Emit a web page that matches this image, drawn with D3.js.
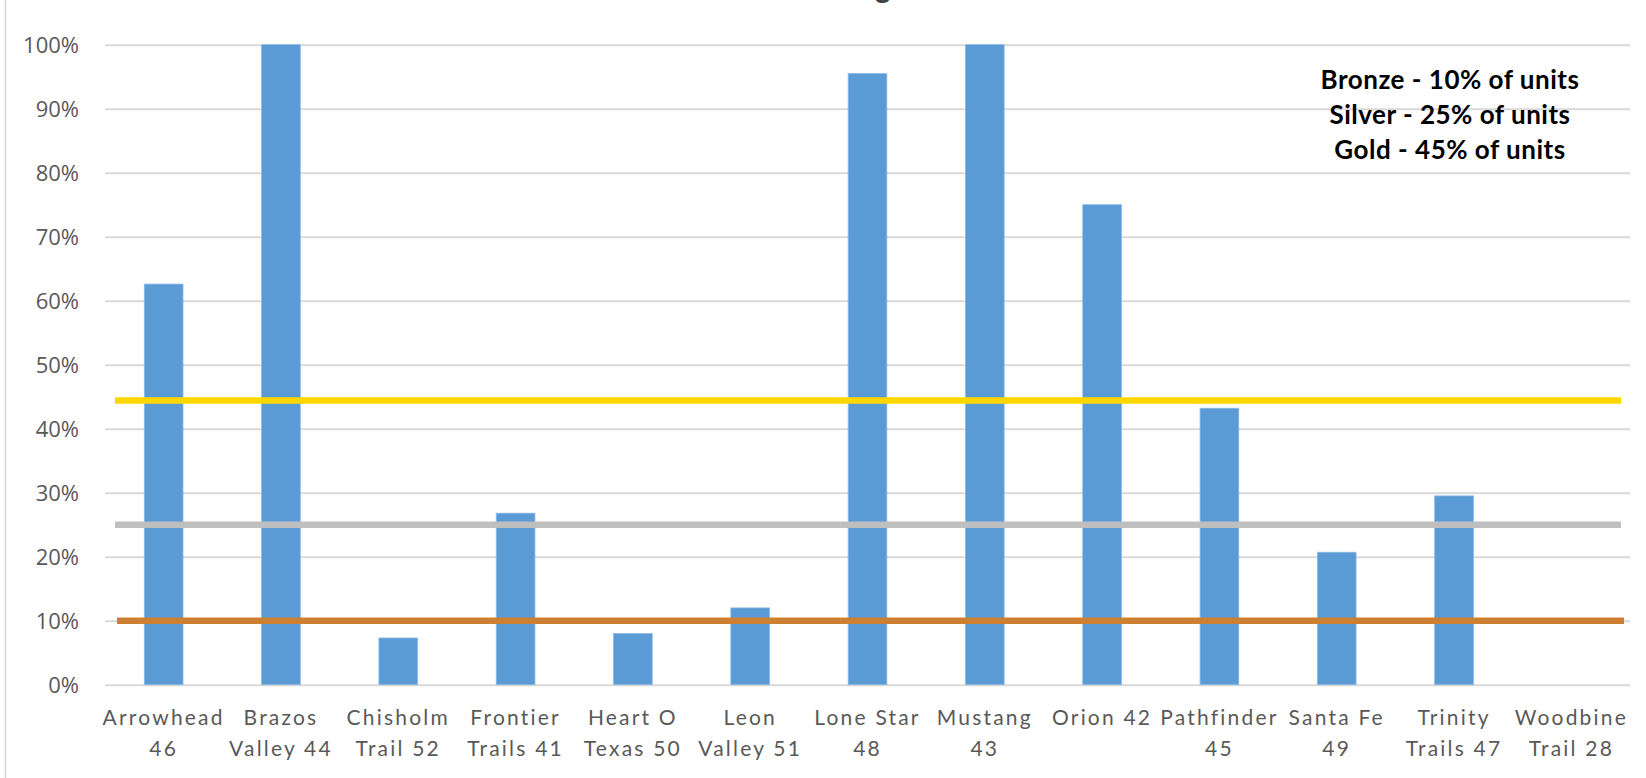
<!DOCTYPE html>
<html>
<head>
<meta charset="utf-8">
<script src="https://cdn.jsdelivr.net/npm/d3@7"></script>
<style>
  html, body { margin: 0; padding: 0; background: #fff; }
  svg { display: block; }
</style>
</head>
<body>
<svg id="chart" width="1646" height="778"></svg>
<script>
// ---- data ----
const categories = ["Arrowhead 46", "Brazos Valley 44", "Chisholm Trail 52", "Frontier Trails 41",
  "Heart O Texas 50", "Leon Valley 51", "Lone Star 48", "Mustang 43", "Orion 42",
  "Pathfinder 45", "Santa Fe 49", "Trinity Trails 47", "Woodbine Trail 28"];
const categoryLines = [["Arrowhead", "46"], ["Brazos", "Valley 44"], ["Chisholm", "Trail 52"],
  ["Frontier", "Trails 41"], ["Heart O", "Texas 50"], ["Leon", "Valley 51"], ["Lone Star", "48"],
  ["Mustang", "43"], ["Orion 42"], ["Pathfinder", "45"], ["Santa Fe", "49"],
  ["Trinity", "Trails 47"], ["Woodbine", "Trail 28"]];
const percentValues = [62.6, 100, 7.3, 26.8, 8.0, 12.0, 95.5, 100, 75, 43.2, 20.7, 29.5, 0];
const thresholdNames = ["Bronze", "Silver", "Gold"];
const thresholdValues = [10, 25, 44.4];
const yTickValues = [0, 10, 20, 30, 40, 50, 60, 70, 80, 90, 100];
const noteLines = ["Bronze - 10% of units", "Silver - 25% of units", "Gold - 45% of units"];
const titleText = "Percentage";

// ---- styles ----
const thresholdColors = { Bronze: "#CD7F32", Silver: "#BFBFBF", Gold: "#FFD700" };
const barColor = "#5B9BD5";
const gridColor = "#D9D9D9";
const textColor = "#595959";

const svg = d3.select("#chart");
const plotLeft = 105, plotRight = 1630, plotTop = 44.7, plotBottom = 684.7;

const x = d3.scaleBand().domain(categories).range([plotLeft, plotRight])
  .paddingInner(0.67).paddingOuter(0.335);
const y = d3.scaleLinear().domain([0, 100]).range([plotBottom, plotTop]);

// chart border (left edge)
svg.append("line").attr("x1", 5.5).attr("x2", 5.5).attr("y1", 0).attr("y2", 778)
  .attr("stroke", gridColor).attr("stroke-width", 1.5);

// title (mostly cropped at top)
const title = svg.append("text").attr("y", -3).attr("x", 0)
  .attr("font-family", "Liberation Sans, Arial, sans-serif").attr("font-weight", "bold")
  .attr("font-size", 30).attr("fill", "#404040").text(titleText);
const gi = titleText.indexOf("g");
const gpos = title.node().getStartPositionOfChar(gi).x;
const gend = title.node().getEndPositionOfChar(gi).x;
title.attr("x", 883 - (gpos + gend) / 2);

// y axis + gridlines
const yAxis = d3.axisLeft(y).tickValues(yTickValues).tickFormat(d => d + "%")
  .tickSize(-(plotRight - plotLeft)).tickPadding(26);
const gy = svg.append("g").attr("transform", `translate(${plotLeft},0)`).call(yAxis);
gy.select(".domain").remove();
gy.selectAll(".tick line").attr("stroke", gridColor).attr("stroke-width", 2);
gy.selectAll(".tick text").attr("fill", textColor)
  .attr("font-family", "Open Sans, Noto Sans, sans-serif").attr("font-size", 22)
  .attr("dy", "0.36em");

// bars
svg.append("g").selectAll("rect").data(categories).join("rect")
  .attr("x", d => x(d))
  .attr("width", x.bandwidth())
  .attr("y", (d, i) => y(percentValues[i]))
  .attr("height", (d, i) => y(0) - y(percentValues[i]))
  .attr("fill", barColor)
  .attr("stroke", "#8DB9E6").attr("stroke-width", 0.8);

// threshold lines
svg.append("g").selectAll("line").data(thresholdNames).join("line")
  .attr("x1", d => plotLeft + (d === "Bronze" ? 12 : 10))
  .attr("x2", d => plotRight - (d === "Bronze" ? 6 : 9))
  .attr("y1", (d, i) => y(thresholdValues[i]))
  .attr("y2", (d, i) => y(thresholdValues[i]))
  .attr("stroke", d => thresholdColors[d])
  .attr("stroke-width", 6.5);

// x axis labels
const xAxis = d3.axisBottom(x).tickSize(0).tickFormat("");
const gx = svg.append("g").attr("transform", `translate(0,${plotBottom})`).call(xAxis);
gx.select(".domain").remove();
gx.selectAll(".tick").each(function (d, i) {
  const t = d3.select(this).append("text")
    .attr("fill", textColor)
    .attr("font-family", "Lato, Open Sans, sans-serif")
    .attr("font-size", 21)
    .attr("letter-spacing", 2.2)
    .attr("text-anchor", "middle");
  categoryLines[i].forEach((line, k) => {
    t.append("tspan").attr("x", 0).attr("y", 40.3 + k * 30.7).text(line);
  });
});

// note
svg.append("g").selectAll("text").data(noteLines).join("text")
  .attr("x", 1450).attr("y", (d, i) => 89.3 + i * 35)
  .attr("text-anchor", "middle")
  .attr("font-family", "Lato, Open Sans, sans-serif").attr("font-weight", "bold")
  .attr("font-size", 26).attr("letter-spacing", 0.5).attr("fill", "#000")
  .text(d => d);
</script>
</body>
</html>
